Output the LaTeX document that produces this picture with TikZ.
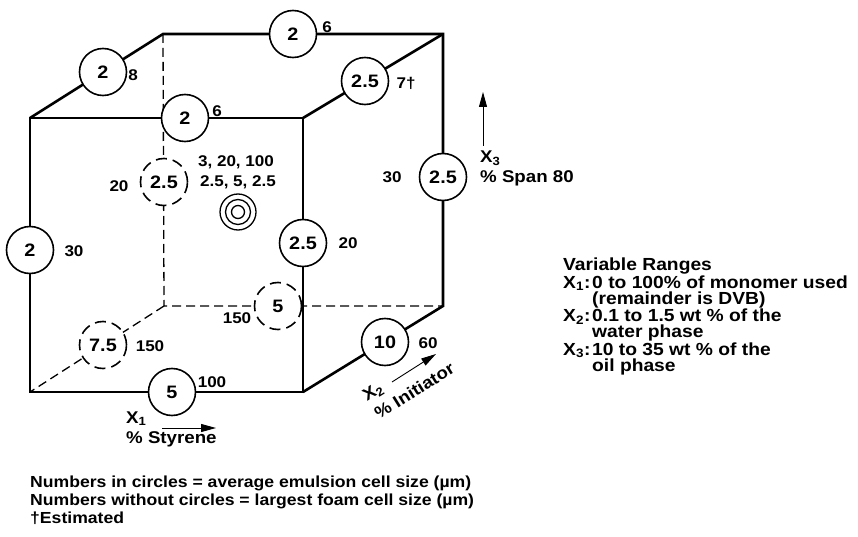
\documentclass[tikz,border=0pt]{standalone}
\usepackage{fontspec}
\setmainfont{Liberation Sans}[FakeStretch=1.1]
\usetikzlibrary{arrows.meta, positioning}
\newcommand{\Xs}[1]{X\textsubscript{#1}}
\newcommand{\rangehead}[1]{\makebox[29pt][l]{\Xs{#1}:}}
\newcommand{\rangecont}{\hspace*{29pt}}

\begin{document}
\begin{tikzpicture}[x=1pt, y=-1pt,
    edge/.style={line width=2.6pt, line join=miter},
    hidden/.style={line width=1.3pt, dash pattern=on 9pt off 5pt},
    cell/.style={circle, draw, line width=1.6pt, fill=white, minimum size=47pt, inner sep=0pt, font=\fontsize{18}{18}\selectfont\bfseries},
    hcell/.style={cell, dash pattern=on 11pt off 6pt},
    ring/.style={circle, draw, line width=1.3pt, inner sep=0pt},
    lab/.style={inner sep=0pt, font=\fontsize{15.5}{15.5}\selectfont\bfseries},
    axlab/.style={inner sep=0pt, font=\fontsize{17}{17}\selectfont\bfseries},
    axis/.style={-{Triangle[length=15pt, width=8pt]}, line width=0.9pt}]
  \useasboundingbox (0,0) rectangle (858,537);
  % cube corners
  \coordinate (ftl) at (30,118);
  \coordinate (ftr) at (303,118);
  \coordinate (fbl) at (30,392);
  \coordinate (fbr) at (303,392);
  \coordinate (btl) at (163,34);
  \coordinate (btr) at (443,34);
  \coordinate (bbl) at (164,306);
  \coordinate (bbr) at (443,306);
  % hidden edges
  \draw[hidden] (btl) -- (bbl) -- (bbr);
  \draw[hidden] (bbl) -- (fbl);
  \node[hcell] (h25) at (164,182) {2.5};
  \node[hcell] (h5) at (278,306) {5};
  \node[hcell] (h75) at (103,345) {7.5};
  % visible edges
  \draw[edge] (ftl) rectangle (fbr);
  \draw[edge] (ftl) -- (btl) -- (btr) -- (bbr) -- (fbr);
  \draw[edge] (ftr) -- (btr);
  % cells on the edges
  \node[cell] (c2a) at (103,72) {2};
  \node[cell] (c2b) at (293,34) {2};
  \node[cell] (c2c) at (185,118) {2};
  \node[cell] (c25a) at (365,81) {2.5};
  \node[cell] (c25b) at (443,177) {2.5};
  \node[cell] (c2d) at (30,250) {2};
  \node[cell] (c25c) at (303,243) {2.5};
  \node[cell] (c5) at (172,392) {5};
  \node[cell] (c10) at (385,342) {10};
  % center point
  \node[ring, minimum size=36pt] (ringo) at (238,212) {};
  \node[ring, minimum size=25pt] (ringm) at (ringo) {};
  \node[ring, minimum size=13pt] (ringi) at (ringo) {};
  \node[lab] (ctop) at (236,162) {3, 20, 100};
  \node[lab] (cbot) at (238,182) {2.5, 5, 2.5};
  % foam cell sizes
  \node[lab] (l8) at (133,75) {8};
  \node[lab] (l6a) at (327,27) {6};
  \node[lab] (l6b) at (217,111) {6};
  \node[lab] (l7) at (406,83) {7\textdagger};
  \node[lab] (l30a) at (392,177) {30};
  \node[lab] (l30b) at (74,251) {30};
  \node[lab] (l20a) at (119,186) {20};
  \node[lab] (l20b) at (348,243) {20};
  \node[lab] (l150a) at (237,318) {150};
  \node[lab] (l150b) at (150,346) {150};
  \node[lab] (l100) at (212,382) {100};
  \node[lab] (l60) at (428,343) {60};
  % axes
  \coordinate (x1a) at (162,428);
  \coordinate (x1b) at (216,428);
  \draw[axis] (x1a) -- (x1b);
  \node[axlab, anchor=base west] (x1) at (126,423) {\Xs{1}};
  \node[axlab, anchor=base west] (x1t) at (126,443) {\% Styrene};
  \coordinate (x3a) at (483,146);
  \coordinate (x3b) at (483,92);
  \draw[axis] (x3a) -- (x3b);
  \node[axlab, anchor=base west] (x3) at (480,163) {\Xs{3}};
  \node[axlab, anchor=base west] (x3t) at (480,183) {\% Span 80};
  \coordinate (x2a) at (392,382);
  \coordinate (x2b) at (436,354);
  \draw[axis] (x2a) -- (x2b);
  \node[axlab, rotate=32, anchor=base west] (x2) at (367,402) {\Xs{2}};
  \node[axlab, rotate=32, anchor=base west] (x2t) at (379,420) {\% Initiator};
  % legend
  \node[lab, anchor=base west, align=left, font=\fontsize{17.5}{16}\selectfont\bfseries] (ranges) at (563,371)
    {\lineskiplimit=-50pt Variable Ranges\\
     \rangehead{1}0 to 100\% of monomer used\\
     \rangecont(remainder is DVB)\\
     \rangehead{2}0.1 to 1.5 wt \% of the\\
     \rangecont water phase\\
     \rangehead{3}10 to 35 wt \% of the\\
     \rangecont oil phase};
  \node[lab, anchor=north west, align=left, font=\fontsize{16}{17.8}\selectfont\bfseries] (notes) at (30,476)
    {Numbers in circles = average emulsion cell size (µm)\\
     Numbers without circles = largest foam cell size (µm)\\
     \textdagger Estimated};
\end{tikzpicture}
\end{document}
